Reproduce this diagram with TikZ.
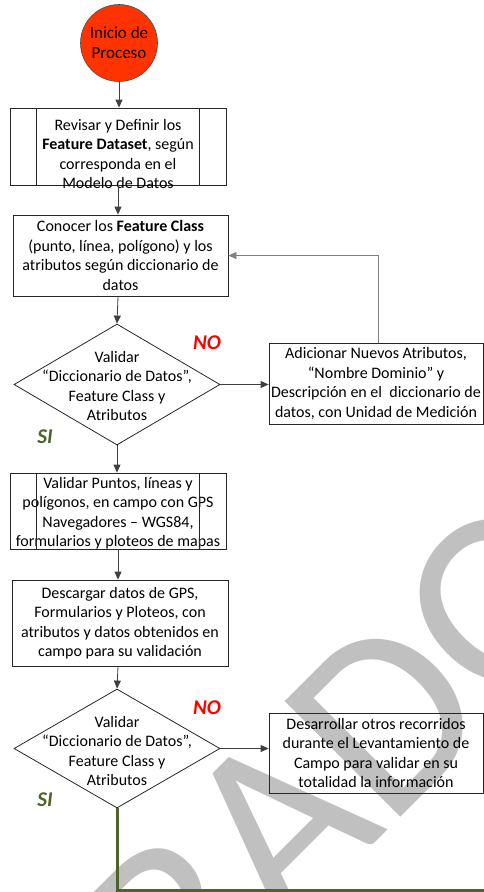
\documentclass[tikz,border=0pt]{standalone}
\usepackage{fontspec}
\setmainfont{Carlito}
\usetikzlibrary{shapes.geometric,arrows.meta}
\definecolor{startred}{HTML}{FF3300}
\definecolor{sigreen}{HTML}{4F6228}
\definecolor{nored}{HTML}{FF0000}
\definecolor{wmgray}{HTML}{C0C0C0}
\definecolor{conn}{HTML}{404040}
\definecolor{retgray}{HTML}{808080}
\begin{document}
\begin{tikzpicture}[x=1pt,y=-1pt,
  txt/.style={align=center,inner sep=0pt,font=\fontsize{16}{19.5}\selectfont},
  box/.style={draw=black!85,line width=0.8pt,rectangle,inner sep=0pt},
  dia/.style={draw=black!85,line width=0.8pt,diamond,inner sep=0pt},
  startnode/.style={draw=black!70,line width=0.6pt,circle,fill=startred,minimum size=77pt,inner sep=0pt,align=center,font=\fontsize{17}{20}\selectfont},
  arr/.style={draw=conn,line width=0.8pt,-{Triangle[length=8pt,width=7pt]}},
  nolab/.style={text=nored,font=\fontsize{21}{24}\selectfont\bfseries\itshape,inner sep=0pt},
  silab/.style={text=sigreen,font=\fontsize{21}{24}\selectfont\bfseries\itshape,inner sep=0pt},
  wm/.style={text=wmgray,font=\fontsize{255}{260}\selectfont,inner sep=0pt}
]
\useasboundingbox (0,0) rectangle (484,892);
\begin{scope}
\clip (0,0) rectangle (484,892);
\node[wm,rotate=45,anchor=base west] (wmark) at (-129,1347) {BORRADOR};
\end{scope}

% start
\node[startnode] (start) at (119,43) {Inicio de\\Proceso};

% box 1 (predefined process)
\node[box,minimum width=216pt,minimum height=77pt] (b1) at (118,146.5) {};
\node[txt] (b1t) at (118,154) {Revisar y Definir los\\\textbf{Feature Dataset}, según\\corresponda en el\\Modelo de Datos};
\draw[draw=black!85,line width=0.8pt] ([xshift=27pt]b1.north west) -- ([xshift=27pt]b1.south west);
\draw[draw=black!85,line width=0.8pt] ([xshift=-27pt]b1.north east) -- ([xshift=-27pt]b1.south east);

% box 2
\node[box,txt,minimum width=215pt,minimum height=81pt,draw=black!85,line width=0.8pt] (b2) at (120.5,255.5) {Conocer los \textbf{Feature Class}\\(punto, línea, polígono) y los\\atributos según diccionario de\\datos};

% diamond 1
\node[dia,minimum width=206pt,minimum height=121pt] (d1) at (117,384.5) {};
\node[txt] (d1t) at (117,386) {Validar\\“Diccionario de Datos”,\\Feature Class y\\Atributos};
\node[nolab] (no1) at (207,343) {NO};
\node[silab] (si1) at (45,437) {SI};

% box 3
\node[box,txt,minimum width=214pt,minimum height=81pt,draw=black!85,line width=0.8pt] (b3) at (376,383.5) {Adicionar Nuevos Atributos,\\“Nombre Dominio” y\\Descripción en el\ \ diccionario de\\datos, con Unidad de Medición};

% box 4 (predefined process)
\node[box,minimum width=216pt,minimum height=76pt] (b4) at (118,511) {};
\node[txt] (b4t) at (118,513) {Validar Puntos, líneas y\\polígonos, en campo con GPS\\Navegadores – WGS84,\\formularios y ploteos de mapas};
\draw[draw=black!85,line width=0.8pt] ([xshift=27pt]b4.north west) -- ([xshift=27pt]b4.south west);
\draw[draw=black!85,line width=0.8pt] ([xshift=-27pt]b4.north east) -- ([xshift=-27pt]b4.south east);

% box 5
\node[box,txt,minimum width=216pt,minimum height=86pt,draw=black!85,line width=0.8pt] (b5) at (120,623) {Descargar datos de GPS,\\Formularios y Ploteos, con\\atributos y datos obtenidos en\\campo para su validación};

% diamond 2
\node[dia,minimum width=206pt,minimum height=119pt] (d2) at (117,748.5) {};
\node[txt] (d2t) at (117,751) {Validar\\“Diccionario de Datos”,\\Feature Class y\\Atributos};
\node[nolab] (no2) at (207,708) {NO};
\node[silab] (si2) at (45,800) {SI};

% box 6
\node[box,txt,minimum width=214pt,minimum height=80pt,draw=black!85,line width=0.8pt] (b6) at (376,753) {Desarrollar otros recorridos\\durante el Levantamiento de\\Campo para validar en su\\totalidad la información};

% connectors
\draw[arr] (start.south) -- (start.south |- b1.north);
\draw[arr] (b1.south) -- (b1.south |- b2.north);
\draw[arr] (b1.south |- b2.south) -- (d1.north);
\draw[arr] (d1.east) -- (b3.west |- d1.east);
\draw[draw=retgray,line width=0.8pt,-{Triangle[length=8pt,width=7pt]}] ([xshift=2pt]b3.north) |- (b2.east);
\draw[arr] (d1.south) -- (d1.south |- b4.north);
\draw[arr] (b4.south) -- (b4.south |- b5.north);
\draw[arr] (b4.south |- b5.south) -- (d2.north);
\draw[arr] (d2.east) -- (b6.west |- d2.east);
\coordinate (gend) at (484,890);
\draw[draw=sigreen,line width=3pt] (d2.south) -- (d2.south |- gend) -- (gend);
\end{tikzpicture}
\end{document}
